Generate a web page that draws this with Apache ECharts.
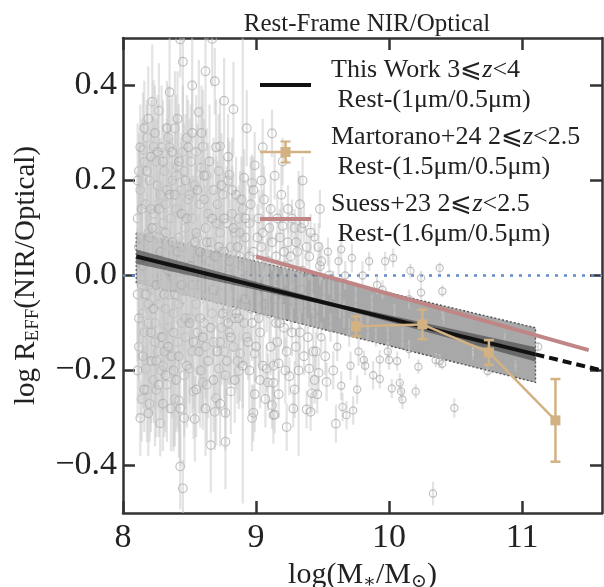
<!DOCTYPE html>
<html><head><meta charset="utf-8">
<script src="https://cdn.jsdelivr.net/npm/echarts@6/dist/echarts.min.js"></script>
<style>html,body{margin:0;padding:0;background:#fff}#c{width:604px;height:587px}</style>
</head><body><div id="c"></div>
<script>
// ---------- data ----------
const xTicks = [8, 9, 10, 11];
const yTicks = [-0.4, -0.2, 0, 0.2, 0.4];
const titleText = 'Rest-Frame NIR/Optical';

// individual galaxies: [log M*, log R ratio, error]
const scatterPoints = [
[8.11,0.12,0.10],[8.11,-0.04,0.14],[8.12,0.22,0.08],[8.12,-0.15,0.12],[8.13,0.03,0.18],[8.13,0.18,0.10],[8.14,-0.26,0.09],[8.14,0.08,0.15],[8.15,0.265,0.12],[8.15,-0.08,0.10],
[8.16,0.239,0.09],[8.16,-0.12,0.16],[8.17,-0.196,0.10],[8.17,0.15,0.13],[8.18,-0.241,0.11],[8.18,0.01,0.20],[8.18,0.29,0.07],[8.19,0.09,0.11],[8.19,-0.10,0.14],[8.20,0.20,0.12],
[8.20,-0.27,0.08],[8.20,-0.02,0.16],[8.21,0.05,0.09],[8.21,-0.18,0.15],[8.22,0.366,0.12],[8.22,-0.03,0.10],[8.22,-0.18,0.11],[8.23,0.271,0.14],[8.23,-0.22,0.09],[8.23,0.13,0.20],
[8.24,0.04,0.12],[8.24,-0.10,0.18],[8.25,-0.241,0.10],[8.25,0.24,0.09],[8.25,0.10,0.15],[8.26,0.06,0.13],[8.26,-0.16,0.12],[8.26,0.19,0.17],[8.27,0.347,0.10],[8.27,-0.06,0.09],
[8.28,-0.311,0.07],[8.28,0.17,0.12],[8.28,-0.01,0.21],[8.29,0.00,0.11],[8.29,-0.20,0.10],[8.29,0.27,0.13],[8.30,0.11,0.16],[8.30,-0.13,0.08],[8.30,-0.19,0.13],[8.31,0.22,0.10],
[8.31,0.02,0.14],[8.32,-0.07,0.12],[8.32,0.15,0.09],[8.33,-0.23,0.12],[8.33,0.07,0.20],[8.34,0.29,0.11],[8.34,-0.11,0.09],[8.35,0.386,0.14],[8.35,0.27,0.10],[8.35,-0.04,0.16],
[8.36,0.12,0.12],[8.36,-0.17,0.10],[8.37,-0.17,0.13],[8.37,0.20,0.09],[8.38,0.05,0.15],[8.38,-0.08,0.11],[8.39,0.31,0.12],[8.39,-0.26,0.10],[8.40,0.14,0.13],[8.40,-0.01,0.09],
[8.41,-0.14,0.18],[8.41,0.23,0.11],[8.42,-0.263,0.12],[8.42,0.08,0.10],[8.43,0.497,0.08],[8.43,-0.402,0.09],[8.43,0.03,0.16],[8.44,0.18,0.12],[8.44,-0.10,0.09],[8.45,-0.448,0.06],
[8.45,0.26,0.14],[8.45,-0.05,0.11],[8.46,0.22,0.10],[8.46,-0.21,0.13],[8.47,0.10,0.08],[8.47,-0.13,0.15],[8.48,0.01,0.12],[8.48,0.29,0.09],[8.49,-0.03,0.17],[8.49,0.16,0.10],
[8.50,-0.196,0.11],[8.50,0.06,0.14],[8.51,0.24,0.12],[8.51,-0.09,0.10],[8.52,0.12,0.09],[8.52,-0.16,0.13],[8.53,-0.244,0.10],[8.53,0.03,0.18],[8.54,-0.302,0.09],[8.54,0.19,0.11],
[8.55,0.26,0.12],[8.55,-0.06,0.10],[8.56,0.08,0.13],[8.56,-0.12,0.09],[8.57,0.344,0.11],[8.57,-0.02,0.15],[8.58,0.15,0.10],[8.58,-0.20,0.12],[8.59,-0.20,0.09],[8.59,0.227,0.13],
[8.60,-0.225,0.10],[8.60,0.271,0.12],[8.60,0.04,0.10],[8.61,-0.10,0.14],[8.62,0.10,0.09],[8.62,-0.15,0.11],[8.63,0.21,0.10],[8.63,-0.04,0.13],[8.64,0.00,0.08],[8.64,0.13,0.15],
[8.66,-0.357,0.10],[8.66,0.07,0.12],[8.67,0.498,0.10],[8.67,-0.08,0.09],[8.68,0.18,0.11],[8.68,-0.14,0.12],[8.69,0.409,0.07],[8.69,-0.287,0.08],[8.70,-0.258,0.10],[8.70,0.02,0.13],
[8.71,0.15,0.09],[8.71,-0.05,0.11],[8.72,-0.196,0.09],[8.72,0.22,0.12],[8.73,0.272,0.10],[8.73,0.09,0.08],[8.74,-0.11,0.12],[8.74,0.05,0.10],[8.75,-0.02,0.09],[8.75,0.17,0.11],
[8.76,0.368,0.09],[8.76,-0.16,0.10],[8.77,-0.35,0.10],[8.77,-0.289,0.08],[8.77,-0.21,0.09],[8.78,0.11,0.12],[8.78,-0.07,0.08],[8.79,0.00,0.10],[8.79,0.20,0.09],[8.80,0.212,0.07],
[8.80,-0.12,0.11],[8.81,-0.244,0.09],[8.81,0.06,0.08],[8.82,0.13,0.10],[8.82,-0.04,0.12],[8.83,-0.15,0.08],[8.84,0.09,0.09],[8.84,-0.09,0.07],[8.85,0.17,0.08],[8.85,0.01,0.10],
[8.86,-0.18,0.09],[8.87,-0.201,0.08],[8.87,0.12,0.07],[8.88,-0.164,0.10],[8.88,0.04,0.09],[8.89,-0.06,0.08],[8.90,0.02,0.50],[8.90,0.14,0.08],[8.91,0.206,0.06],[8.91,-0.10,0.09],
[8.92,0.08,0.07],[8.93,-0.13,0.08],[8.94,0.00,0.06],[8.95,0.11,0.08],[8.96,-0.07,0.07],[8.97,0.195,0.06],[8.97,-0.30,0.07],[8.98,-0.289,0.06],[8.98,0.05,0.08],[8.99,0.232,0.07],
[8.99,-0.25,0.08],[8.99,-0.164,0.06],
[9.01,-0.03,0.07],[9.02,0.12,0.06],[9.03,-0.12,0.08],[9.04,0.06,0.07],[9.05,-0.19,0.06],[9.06,0.16,0.07],[9.07,0.01,0.06],[9.08,-0.196,0.05],[9.09,-0.225,0.06],[9.10,0.10,0.05],
[9.10,-0.08,0.06],[9.12,0.299,0.05],[9.12,-0.273,0.05],[9.13,-0.294,0.06],[9.13,-0.19,0.06],[9.13,-0.226,0.05],[9.14,0.21,0.05],[9.14,-0.293,0.04],[9.15,0.04,0.05],[9.16,-0.14,0.05],
[9.17,-0.185,0.04],[9.18,0.08,0.06],[9.19,-0.05,0.05],[9.20,0.104,0.05],[9.21,-0.11,0.05],[9.22,0.02,0.04],[9.23,-0.319,0.05],[9.24,0.07,0.05],[9.25,-0.212,0.04],[9.26,-0.07,0.05],
[9.27,0.12,0.04],[9.28,-0.02,0.05],[9.29,0.10,0.04],[9.30,-0.15,0.04],[9.31,0.05,0.05],[9.32,-0.08,0.30],[9.33,-0.12,0.04],[9.34,0.10,0.04],[9.35,0.01,0.05],[9.36,-0.17,0.04],
[9.38,-0.282,0.04],[9.38,0.06,0.04],[9.40,-0.196,0.04],[9.41,-0.287,0.04],[9.42,-0.248,0.04],[9.42,-0.04,0.04],[9.43,-0.16,0.04],[9.44,0.08,0.03],[9.45,-0.16,0.04],[9.46,-0.09,0.04],
[9.47,-0.205,0.04],[9.48,0.14,0.04],[9.48,0.02,0.04],[9.49,-0.13,0.03],
[9.51,-0.05,0.04],[9.53,-0.224,0.04],[9.54,0.05,0.03],[9.56,-0.11,0.03],[9.58,-0.02,0.03],[9.60,-0.312,0.04],[9.61,-0.15,0.03],[9.62,0.03,0.03],[9.64,-0.232,0.03],[9.64,0.055,0.03],
[9.65,-0.277,0.03],[9.66,-0.08,0.03],[9.68,-0.294,0.03],[9.70,-0.12,0.03],[9.72,0.037,0.03],[9.73,-0.284,0.03],[9.75,-0.05,0.03],[9.77,-0.16,0.03],[9.79,-0.09,0.02],[9.81,-0.178,0.02],
[9.82,-0.19,0.02],[9.85,0.03,0.02],[9.87,-0.06,0.02],[9.90,-0.13,0.02],[9.93,-0.177,0.02],[9.93,-0.218,0.02],[9.95,-0.03,0.02],[9.97,0.03,0.02],[9.99,-0.129,0.02],[9.99,-0.16,0.02],
[10.00,-0.178,0.02],[10.02,-0.238,0.02],[10.03,0.037,0.02],[10.04,-0.08,0.02],[10.06,-0.18,0.02],[10.08,-0.226,0.02],[10.09,-0.244,0.02],[10.10,-0.261,0.02],[10.10,-0.13,0.02],[10.15,-0.155,0.02],
[10.15,-0.05,0.02],[10.16,0.01,0.015],[10.20,-0.244,0.015],[10.22,-0.192,0.015],[10.24,-0.036,0.015],[10.24,-0.005,0.015],[10.33,-0.459,0.025],[10.35,-0.178,0.015],[10.38,0.016,0.012],[10.38,-0.18,0.015],
[10.40,-0.186,0.012],[10.40,-0.033,0.012],[10.40,-0.08,0.012],[10.41,-0.09,0.012],[10.49,-0.279,0.02],
[10.63,-0.156,0.015],[10.63,-0.165,0.012],[10.74,-0.201,0.012],[10.87,-0.128,0.01],[11.12,-0.15,0.01],[10.95,-0.19,0.012],
[8.12,0.06,0.20],[8.14,-0.02,0.17],[8.17,0.04,0.12],[8.19,-0.06,0.20],[8.21,0.14,0.16],[8.24,-0.14,0.22],[8.27,0.08,0.14],[8.31,-0.16,0.18],[8.33,0.18,0.15],[8.36,0.00,0.20],
[8.38,-0.12,0.25],[8.40,0.21,0.17],[8.42,-0.06,0.14],[8.44,0.06,0.23],[8.47,-0.09,0.20],[8.50,0.17,0.16],[8.52,-0.02,0.21],[8.55,0.09,0.18],[8.58,-0.09,0.16],[8.61,0.16,0.13],
[8.63,-0.23,0.12],[8.65,0.03,0.22],[8.68,-0.03,0.16],[8.70,0.11,0.14],[8.73,-0.14,0.15],[8.76,0.05,0.20],[8.79,-0.10,0.13],[8.82,0.18,0.11],[8.85,-0.08,0.16],[8.88,0.09,0.13],
[8.92,-0.05,0.14],[8.95,-0.20,0.09],[8.96,0.15,0.10],[9.02,-0.09,0.10],[9.05,0.09,0.09],[9.08,-0.02,0.10],[9.11,0.14,0.07],[9.15,-0.10,0.08],[9.19,0.17,0.06],[9.22,-0.20,0.07],
[9.26,0.04,0.07],[9.29,-0.24,0.06],[9.33,0.15,0.06],[9.37,-0.06,0.06],[9.40,0.04,0.05],[9.44,-0.22,0.05],[9.47,0.06,0.05],[9.52,-0.17,0.04],[9.55,0.00,0.04],[9.58,-0.20,0.04],
[9.63,-0.05,0.04],[9.67,0.00,0.03],[9.71,-0.19,0.03],[9.76,-0.24,0.03],[9.80,0.00,0.03],[9.84,-0.11,0.03],[9.88,-0.21,0.03],[9.91,-0.02,0.02],
[8.45,0.45,0.15],[8.52,0.40,0.12],[8.62,0.43,0.14],[8.83,0.35,0.10],[8.93,0.31,0.08],[9.05,0.27,0.06],[9.20,0.24,0.05],[9.35,0.20,0.05],
[8.11,0.20,0.12],[8.11,-0.20,0.10],[8.12,-0.09,0.13],[8.13,0.27,0.09],[8.13,-0.30,0.08],[8.14,0.14,0.19],[8.15,-0.17,0.11],[8.15,0.02,0.22],[8.16,0.31,0.10],[8.16,-0.24,0.09],
[8.17,-0.04,0.18],[8.18,0.22,0.15],[8.19,-0.29,0.09],[8.19,0.33,0.11],[8.20,0.08,0.17],[8.21,-0.12,0.19],[8.21,0.25,0.12],[8.22,0.10,0.14],[8.23,-0.07,0.17],[8.24,0.30,0.10],
[8.25,-0.18,0.14],[8.25,-0.02,0.20],[8.26,0.26,0.12],[8.27,-0.23,0.11],[8.27,0.14,0.15],[8.28,0.05,0.19],[8.29,-0.13,0.16],[8.30,0.24,0.13],[8.30,-0.27,0.10],[8.31,-0.04,0.18],
[8.32,0.09,0.21],[8.32,-0.21,0.12],[8.33,0.31,0.10],[8.34,0.01,0.17],[8.34,-0.15,0.14],[8.35,0.17,0.12],[8.36,-0.28,0.09],[8.37,0.07,0.18],[8.37,0.26,0.12],[8.38,-0.20,0.16],
[8.39,0.17,0.13],[8.39,-0.04,0.19],[8.40,-0.22,0.11],[8.41,0.05,0.20],[8.41,0.33,0.10],[8.42,-0.17,0.16],[8.42,0.24,0.12],[8.43,-0.28,0.12],[8.44,-0.02,0.18],[8.44,0.13,0.15],
[8.46,0.01,0.19],[8.46,-0.30,0.10],[8.47,0.20,0.14],[8.48,-0.19,0.13],[8.48,0.12,0.16],[8.49,0.27,0.10],[8.50,-0.10,0.17],[8.51,0.02,0.15],[8.52,0.30,0.11],[8.53,-0.14,0.14],
[8.54,0.07,0.17],[8.55,-0.24,0.10],[8.56,0.18,0.14],[8.57,-0.16,0.13],[8.58,0.05,0.18],[8.59,0.30,0.10],[8.60,-0.13,0.15],[8.61,0.21,0.12],[8.62,-0.28,0.10],[8.63,0.07,0.16],
[8.64,-0.18,0.12],[8.65,0.24,0.12],[8.66,-0.11,0.15],[8.67,0.12,0.13],[8.68,-0.22,0.11],[8.69,0.04,0.14],[8.70,0.27,0.10],[8.71,-0.16,0.12],[8.72,0.06,0.15],[8.73,-0.27,0.09],
[8.74,0.19,0.11],[8.75,-0.08,0.14],[8.76,0.12,0.10],[8.78,-0.18,0.12],[8.79,0.25,0.09],[8.80,0.03,0.13],[8.81,-0.13,0.10],[8.83,0.10,0.11],[8.84,-0.22,0.09],[8.86,0.06,0.11],
[8.87,-0.09,0.10],[8.89,0.16,0.09],[8.90,-0.19,0.09],[8.92,0.12,0.08],[8.94,-0.14,0.08],[8.95,0.04,0.09],[8.97,-0.10,0.08],[8.98,0.18,0.07],[9.00,-0.15,0.07],[9.01,0.08,0.07],
[9.03,-0.22,0.06],[9.04,0.20,0.06],[9.06,-0.06,0.07],[9.07,-0.26,0.06],[9.09,0.03,0.06],[9.11,-0.15,0.06],[9.12,0.07,0.06],[9.14,-0.05,0.06],[9.16,0.12,0.05],[9.17,-0.25,0.05],
[9.18,-0.10,0.05],[9.21,0.05,0.05],[9.23,-0.16,0.05],[9.24,0.14,0.05],[9.27,-0.12,0.05],[9.28,-0.28,0.04],[9.30,0.07,0.05],[9.32,-0.20,0.04],[9.34,-0.03,0.05],[9.36,0.11,0.04],
[9.39,-0.13,0.04],[9.41,0.09,0.04],[9.43,-0.08,0.04],[9.46,-0.25,0.04],[9.49,0.03,0.04]
];

// This Work: best-fit line, its extrapolation, scatter band, confidence band
const fitX = [8.1, 11.1];
const fitY = [0.04, -0.166];
const extX = [11.1, 11.6];
const extY = [-0.166, -0.2];
const bandX = [8.1, 11.1];
const bandTop = [0.09, -0.11];
const bandBot = [-0.015, -0.225];
const ciX = [8.1, 9.6, 11.1];
const ciHi = [0.055, -0.059, -0.151];
const ciLo = [0.025, -0.067, -0.181];

// Suess+23
const suessX = [9.0, 11.5];
const suessY = [0.04, -0.157];

// Martorano+24
const martX = [9.75, 10.25, 10.75, 11.25];
const martY = [-0.107, -0.103, -0.162, -0.305];
const martE = [0.021, 0.031, 0.026, 0.087];

// reference ratio = 1
const refX = [8, 11.6];
const refY = [0, 0];

const legendNames = ['This Work', 'Martorano+24', 'Suess+23'];
const legendLabels = {
  'This Work': 'This Work 3⩽{i|z}<4\n Rest-(1μm/0.5μm)',
  'Martorano+24': 'Martorano+24 2⩽{i|z}<2.5\n Rest-(1.5μm/0.5μm)',
  'Suess+23': 'Suess+23 2⩽{i|z}<2.5\n Rest-(1.6μm/0.5μm)'
};

// ---------- chart ----------
const FONT = "'Liberation Serif','DejaVu Serif',serif";
const INK = '#222';
const FRAME = '#333';
const TAN = '#d2b283';
const ROSE = '#c08585';

const chart = echarts.init(document.getElementById('c'), null, {renderer: 'canvas'});

function baseAxis(extra) {
  return Object.assign({
    type: 'value',
    splitLine: {show: false},
    axisLine: {show: true, onZero: false, lineStyle: {color: FRAME, width: 2.5}},
    axisTick: {show: true, inside: true, length: 12, lineStyle: {color: FRAME, width: 2.5}},
  }, extra);
}

const lineIcon = 'path://M0,0L0,0ZM66,25L66,25ZM0,10.5h51v4h-51Z';
const errIcon = 'path://M0,0L0,0ZM66,25L66,25ZM0,11.25h51v2.5h-51ZM24.25,1h2.5v23h-2.5ZM20.5,1h10v2h-10ZM20.5,22h10v2h-10ZM20.5,7.5h10v10h-10Z';

const option = {
  animation: false,
  backgroundColor: '#fff',
  title: {
    text: titleText, left: 362, top: 7, textAlign: 'center',
    textStyle: {fontFamily: FONT, fontSize: 25, fontWeight: 'normal', color: INK}
  },
  grid: {left: 123, right: 2, top: 38, bottom: 74, containLabel: false, outerBoundsMode: 'none'},
  legend: {
    orient: 'vertical', left: 260, top: 55, padding: 0, itemGap: 7,
    itemWidth: 66, itemHeight: 25, selectedMode: false,
    itemStyle: {borderWidth: 0},
    data: [
      {name: 'This Work', icon: lineIcon},
      {name: 'Martorano+24', icon: errIcon},
      {name: 'Suess+23', icon: lineIcon}
    ],
    formatter: n => legendLabels[n],
    textStyle: {
      fontFamily: FONT, fontSize: 26, color: INK, lineHeight: 30,
      rich: {i: {fontFamily: FONT, fontSize: 26, fontStyle: 'italic', color: INK, lineHeight: 30}}
    }
  },
  xAxis: [
    baseAxis({
      position: 'bottom', min: 8, max: 11.6,
      name: '{a|log(M}{s|∗}{a|/M}{s|⊙}{a|)}', nameLocation: 'middle', nameGap: 40,
      nameTextStyle: {
        rich: {
          a: {fontFamily: FONT, fontSize: 30, color: INK, lineHeight: 34},
          s: {fontFamily: FONT, fontSize: 19, color: INK, lineHeight: 22, verticalAlign: 'bottom'}
        }
      },
      axisTick: {show: true, inside: true, length: 12, customValues: xTicks, lineStyle: {color: FRAME, width: 2.5}},
      axisLabel: {customValues: xTicks, margin: 8, fontFamily: FONT, fontSize: 34, color: INK, formatter: v => String(v)}
    }),
    baseAxis({
      position: 'top', min: 8, max: 11.6,
      axisTick: {show: true, inside: true, length: 12, customValues: xTicks, lineStyle: {color: FRAME, width: 2.5}},
      axisLabel: {show: false}
    })
  ],
  yAxis: [
    baseAxis({
      position: 'left', min: -0.5, max: 0.5,
      name: '{a|log R}{s|EFF}{a|(NIR/Optical)}', nameLocation: 'middle', nameGap: 80, nameRotate: 90,
      nameTextStyle: {
        rich: {
          a: {fontFamily: FONT, fontSize: 29, color: INK, lineHeight: 34},
          s: {fontFamily: FONT, fontSize: 19, color: INK, lineHeight: 22, verticalAlign: 'bottom'}
        }
      },
      axisTick: {show: true, inside: true, length: 12, customValues: yTicks, lineStyle: {color: FRAME, width: 2.5}},
      axisLabel: {
        customValues: yTicks, margin: 6, fontFamily: FONT, fontSize: 34, color: INK,
        formatter: v => (v < -1e-9 ? '\u2212' : '') + Math.abs(v).toFixed(1)
      }
    }),
    baseAxis({
      position: 'right', min: -0.5, max: 0.5,
      axisTick: {show: true, inside: true, length: 12, customValues: yTicks, lineStyle: {color: FRAME, width: 2.5}},
      axisLabel: {show: false}
    })
  ],
  series: [
    {
      name: 'ref', type: 'line', z: 1, silent: true, symbol: 'none',
      data: refX.map((x, i) => [x, refY[i]]),
      lineStyle: {color: '#6488cc', width: 2.5, type: [3, 6]}
    },
    {
      name: 'band', type: 'custom', z: 2, silent: true, clip: true,
      data: [[bandX[0], bandTop[0]]],
      renderItem: (params, api) => {
        const pts = [
          api.coord([bandX[0], bandTop[0]]), api.coord([bandX[1], bandTop[1]]),
          api.coord([bandX[1], bandBot[1]]), api.coord([bandX[0], bandBot[0]])
        ];
        return {type: 'polygon', shape: {points: pts},
          style: {fill: 'rgba(115,115,115,0.62)', stroke: '#555', lineWidth: 1.4, lineDash: [2, 2]}};
      }
    },
    {
      name: 'galaxies', type: 'custom', z: 3, silent: true, clip: true,
      data: scatterPoints,
      renderItem: (params, api) => {
        const x = api.value(0), y = api.value(1), e = api.value(2);
        const lo = Math.max(y - e, -0.5), hi = Math.min(y + e, 0.5);
        const p0 = api.coord([x, lo]), p1 = api.coord([x, hi]), c = api.coord([x, y]);
        const r = e > 0.03 ? 4.3 : 3.6;
        return {type: 'group', children: [
          {type: 'line', shape: {x1: p0[0], y1: p0[1], x2: p1[0], y2: p1[1]},
            style: {stroke: 'rgba(200,200,200,0.5)', lineWidth: 2.2}},
          {type: 'circle', shape: {cx: c[0], cy: c[1], r: r},
            style: {fill: 'rgba(255,255,255,0)', stroke: 'rgba(168,168,168,0.7)', lineWidth: 1.2}}
        ]};
      }
    },
    {
      name: 'ci', type: 'custom', z: 4, silent: true, clip: true,
      data: [[ciX[0], ciHi[0]]],
      renderItem: (params, api) => {
        const up = ciX.map((x, i) => api.coord([x, ciHi[i]]));
        const dn = ciX.map((x, i) => api.coord([x, ciLo[i]])).reverse();
        return {type: 'polygon', shape: {points: up.concat(dn)},
          style: {fill: 'rgba(40,40,40,0.5)'}};
      }
    },
    {
      name: 'This Work', type: 'line', z: 5, silent: true, symbol: 'none', color: '#111',
      data: fitX.map((x, i) => [x, fitY[i]]),
      lineStyle: {color: '#111', width: 4}
    },
    {
      name: 'extrap', type: 'line', z: 5, silent: true, symbol: 'none', color: '#111',
      data: extX.map((x, i) => [x, extY[i]]),
      lineStyle: {color: '#111', width: 4, type: [9, 5]}
    },
    {
      name: 'Suess+23', type: 'line', z: 5, silent: true, symbol: 'none', color: ROSE,
      data: suessX.map((x, i) => [x, suessY[i]]),
      lineStyle: {color: ROSE, width: 4}
    },
    {
      name: 'martErr', type: 'custom', z: 6, silent: true, clip: true,
      data: martX.map((x, i) => [x, martY[i], martE[i]]),
      renderItem: (params, api) => {
        const x = api.value(0), y = api.value(1), e = api.value(2);
        const p0 = api.coord([x, y - e]), p1 = api.coord([x, y + e]);
        const st = {stroke: TAN, lineWidth: 2.5};
        return {type: 'group', children: [
          {type: 'line', shape: {x1: p0[0], y1: p0[1], x2: p1[0], y2: p1[1]}, style: st},
          {type: 'line', shape: {x1: p0[0] - 5, y1: p0[1], x2: p0[0] + 5, y2: p0[1]}, style: st},
          {type: 'line', shape: {x1: p1[0] - 5, y1: p1[1], x2: p1[0] + 5, y2: p1[1]}, style: st}
        ]};
      }
    },
    {
      name: 'Martorano+24', type: 'line', z: 6, silent: true, color: TAN,
      symbol: 'rect', symbolSize: 10,
      data: martX.map((x, i) => [x, martY[i]]),
      itemStyle: {color: TAN, borderWidth: 0},
      lineStyle: {color: TAN, width: 2.5}
    }
  ]
};
chart.setOption(option);
</script>
</body></html>
